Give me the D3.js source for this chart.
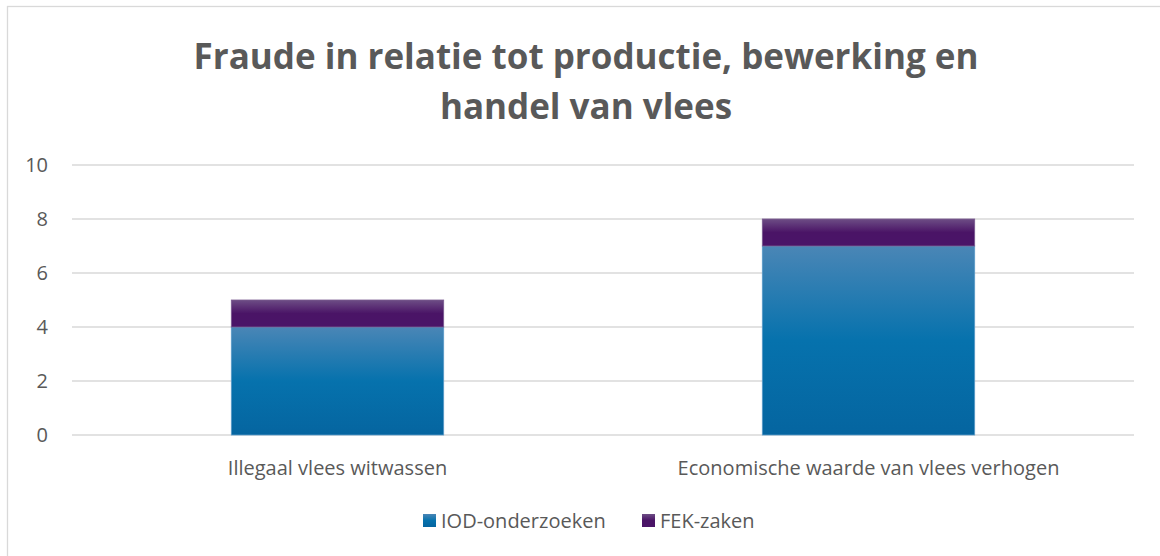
<!DOCTYPE html>
<html>
<head>
<meta charset="utf-8">
<title>Fraude vlees</title>
<script src="https://cdn.jsdelivr.net/npm/d3@7"></script>
<style>
  body { margin: 0; background: #fff; }
  svg text { font-family: "Open Sans", "Noto Sans", sans-serif; fill: #595959; }
  .grid line { stroke: #d9d9d9; stroke-width: 1.3; }
</style>
</head>
<body>
<div id="grafico"></div>
<script>
"use strict"

// data
var categorieen = ["Illegaal vlees witwassen", "Economische waarde van vlees verhogen"];
var iod = [4, 7];
var fek = [1, 1];
var reeksen = ["IOD-onderzoeken", "FEK-zaken"];
var yTicks = [0, 2, 4, 6, 8, 10];
var titel = ["Fraude in relatie tot productie, bewerking en", "handel van vlees"];

var larguraSVG = 1160, alturaSVG = 556;
var margin = {top: 165, right: 26, bottom: 121, left: 72};
var larguraVis = larguraSVG - margin.left - margin.right,
    alturaVis = alturaSVG - margin.top - margin.bottom;

var svg = d3.select('#grafico').append('svg')
  .attr('width', larguraSVG)
  .attr('height', alturaSVG);

// gradients
var defs = svg.append('defs');
function gradiente(id, cores) {
  var g = defs.append('linearGradient').attr('id', id)
    .attr('x1', 0).attr('y1', 0).attr('x2', 0).attr('y2', 1);
  cores.forEach(c => g.append('stop').attr('offset', c[0]).attr('stop-color', c[1]));
}
gradiente('gradIod', [[0, '#4a86b6'], [0.5, '#0672ad'], [1, '#0565a0']]);
gradiente('gradFek', [[0, '#6d4d85'], [0.5, '#4a1466'], [1, '#4a1468']]);

svg.append('rect')
  .attr('x', 7.5).attr('y', 6.5)
  .attr('width', 1170).attr('height', 570)
  .attr('fill', 'none').attr('stroke', '#d9d9d9').attr('stroke-width', 1.3);

svg.selectAll('.titel').data(titel).enter().append('text')
  .attr('class', 'titel')
  .attr('x', 586).attr('y', (d, i) => 69 + i * 50)
  .attr('text-anchor', 'middle')
  .style('font-size', '35px').style('font-weight', 'bold')
  .text(d => d);

var grafico = svg.append('g')
  .attr('transform', 'translate(' + margin.left + ',' + margin.top + ')');

var x = d3.scaleBand().domain(categorieen).range([0, larguraVis]);
var y = d3.scaleLinear().domain([0, 10]).range([alturaVis, 0]);

grafico.append('g').attr('class', 'grid')
  .selectAll('line').data(yTicks).enter().append('line')
  .attr('x1', 0).attr('x2', larguraVis)
  .attr('y1', d => y(d)).attr('y2', d => y(d));

var yAxis = grafico.append('g').call(d3.axisLeft(y).tickValues(yTicks).tickSize(0).tickPadding(24));
yAxis.select('.domain').remove();
yAxis.selectAll('text').style('font-size', '20px').attr('fill', '#595959');

var barW = x.bandwidth() * 0.4;
var dados = categorieen.map((c, i) => ({cat: c, iod: iod[i], fek: fek[i]}));

grafico.selectAll('.iod').data(dados).enter().append('rect')
  .attr('class', 'iod')
  .attr('x', d => x(d.cat) + (x.bandwidth() - barW) / 2)
  .attr('y', d => y(d.iod))
  .attr('width', barW)
  .attr('height', d => y(0) - y(d.iod))
  .attr('fill', 'url(#gradIod)')
  .attr('stroke', '#5b9bc8').attr('stroke-width', 0.8);

grafico.selectAll('.fek').data(dados).enter().append('rect')
  .attr('class', 'fek')
  .attr('x', d => x(d.cat) + (x.bandwidth() - barW) / 2)
  .attr('y', d => y(d.iod + d.fek))
  .attr('width', barW)
  .attr('height', d => y(d.iod) - y(d.iod + d.fek))
  .attr('fill', 'url(#gradFek)')
  .attr('stroke', '#7a5a90').attr('stroke-width', 0.8);

var xAxis = grafico.append('g')
  .attr('transform', 'translate(0,' + alturaVis + ')')
  .call(d3.axisBottom(x).tickSize(0).tickPadding(26));
xAxis.select('.domain').remove();
xAxis.selectAll('text').style('font-size', '20px').attr('fill', '#595959');

// legenda
var legPos = [423, 642];
var legCores = ['url(#gradIod)', 'url(#gradFek)'];
var legenda = svg.append('g');
reeksen.forEach((r, i) => {
  legenda.append('rect').attr('x', legPos[i]).attr('y', 514)
    .attr('width', 13).attr('height', 13).attr('fill', legCores[i]);
  legenda.append('text').attr('x', legPos[i] + 18).attr('y', 528)
    .style('font-size', '20px').text(r);
});
</script>
</body>
</html>
